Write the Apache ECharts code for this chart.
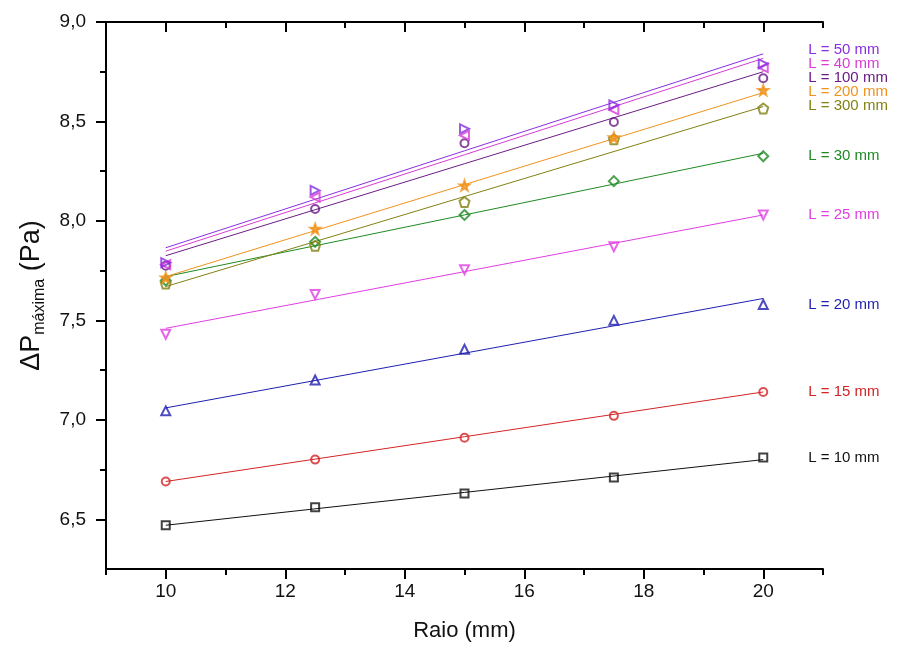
<!DOCTYPE html>
<html>
<head>
<meta charset="utf-8">
<script src="https://cdn.jsdelivr.net/npm/echarts@6/dist/echarts.min.js"></script>
<style>
  html, body { margin: 0; background: #fff; }
  #chart { width: 908px; height: 651px; }
</style>
</head>
<body>
<div id="chart"></div>
<script>
// raio (mm) on the x axis
const raio = [10, 12.5, 15, 17.5, 20];

// measured points, one array per length L
const pL10 = [6.47, 6.56, 6.63, 6.71, 6.81];
const pL15 = [6.69, 6.80, 6.91, 7.02, 7.14];
const pL20 = [7.045, 7.20, 7.355, 7.50, 7.58];
const pL25 = [7.43, 7.63, 7.755, 7.87, 8.03];
const pL30 = [7.70, 7.895, 8.03, 8.20, 8.325];
const pL300 = [7.685, 7.875, 8.095, 8.41, 8.565];
const pL200 = [7.715, 7.96, 8.178, 8.42, 8.657];
const pL100 = [7.775, 8.06, 8.39, 8.497, 8.717];
const pL40 = [7.78, 8.12, 8.43, 8.558, 8.77];
const pL50 = [7.79, 8.153, 8.463, 8.583, 8.79];

// linear fits, value at raio = 10 and raio = 20
const fitX = [10, 20];
const fL10 = [6.47, 6.80];
const fL15 = [6.69, 7.14];
const fL20 = [7.06, 7.61];
const fL25 = [7.46, 8.03];
const fL30 = [7.72, 8.34];
const fL300 = [7.67, 8.575];
const fL200 = [7.72, 8.645];
const fL100 = [7.825, 8.75];
const fL40 = [7.848, 8.817];
const fL50 = [7.865, 8.84];

const names = ["L = 10 mm", "L = 15 mm", "L = 20 mm", "L = 25 mm", "L = 30 mm",
               "L = 300 mm", "L = 200 mm", "L = 100 mm", "L = 40 mm", "L = 50 mm"];
// where each label sits, in y units
const labelY = [6.81, 7.14, 7.58, 8.03, 8.325, 8.58, 8.65, 8.72, 8.79, 8.86];

const xTicks = [10, 12, 14, 16, 18, 20];
const xMinor = [9, 11, 13, 15, 17, 19, 21];
const yTicks = [6.5, 7.0, 7.5, 8.0, 8.5, 9.0];
const yMinor = [6.75, 7.25, 7.75, 8.25, 8.75];

const points = [pL10, pL15, pL20, pL25, pL30, pL300, pL200, pL100, pL40, pL50];
const fits = [fL10, fL15, fL20, fL25, fL30, fL300, fL200, fL100, fL40, fL50];

const colors = ["#111111", "#d42424", "#1f1fb0", "#e03ee2", "#1f8a24",
                "#828012", "#f0921c", "#6a1c84", "#d83cd4", "#8a2ee0"];
const pentagon = "path://M0,-10L9.51,-3.09L5.88,8.09L-5.88,8.09L-9.51,-3.09Z";
const star = "path://M0,-10L2.35,-3.24L9.51,-3.09L3.8,1.24L5.88,8.09L0,4L-5.88,8.09L-3.8,1.24L-9.51,-3.09L-2.35,-3.24Z";
const symbols = ["rect", "circle", "triangle", "triangle", "diamond", pentagon, star, "circle", "triangle", "triangle"];
const rotates = [0, 0, 0, 180, 0, 0, 0, 0, 90, -90];
const sizes = [8, 8, 9, 9, 10, 10, 10, 8, 9, 9];

const FONT = '"Liberation Sans", Arial, sans-serif';

const myChart = echarts.init(document.getElementById("chart"), null, { renderer: "canvas" });

let series = [];
// fit lines first so markers sit on top
fits.forEach((f, i) => {
  series.push({
    type: "line",
    data: fitX.map((x, k) => [x, f[k]]),
    showSymbol: false,
    silent: true,
    lineStyle: { color: colors[i], width: 1 },
    z: 2,
  });
});
points.forEach((p, i) => {
  series.push({
    type: "scatter",
    name: names[i],
    data: raio.map((x, k) => [x, p[k]]),
    symbol: symbols[i],
    symbolRotate: rotates[i],
    symbolSize: sizes[i],
    itemStyle: {
      color: symbols[i] === star ? colors[i] : "rgba(255,255,255,0)",
      borderColor: colors[i],
      borderWidth: 2,
    },
    z: 3,
  });
});

const axisLine = { show: true, lineStyle: { color: "#000", width: 2 } };
const tickStyle = { color: "#000", width: 2 };
const fmt = (v) => v.toFixed(1).replace(".", ",");

let option = {
  animation: false,
  grid: { left: 106, right: 85, top: 22, bottom: 82 },
  xAxis: [
    {
      type: "value", position: "bottom", min: 9, max: 21, interval: 1,
      axisLine,
      axisTick: { customValues: xTicks, length: 10, lineStyle: tickStyle },
      axisLabel: { customValues: xTicks, margin: 13, fontSize: 19, color: "#111", fontFamily: FONT },
      splitLine: { show: false },
      name: "Raio (mm)", nameLocation: "middle", nameGap: 51,
      nameTextStyle: { fontSize: 22, color: "#111", fontFamily: FONT },
    },
    {
      type: "value", position: "bottom", min: 9, max: 21, interval: 1,
      axisLine: { show: false },
      axisTick: { customValues: xMinor, length: 6, lineStyle: tickStyle },
      axisLabel: { show: false }, splitLine: { show: false },
    },
    {
      type: "value", position: "top", min: 9, max: 21, interval: 1,
      axisLine,
      axisTick: { inside: true, customValues: xTicks, length: 10, lineStyle: tickStyle },
      axisLabel: { show: false }, splitLine: { show: false },
    },
    {
      type: "value", position: "top", min: 9, max: 21, interval: 1,
      axisLine: { show: false },
      axisTick: { inside: true, customValues: xMinor, length: 6, lineStyle: tickStyle },
      axisLabel: { show: false }, splitLine: { show: false },
    },
  ],
  yAxis: [
    {
      type: "value", position: "left", min: 6.25, max: 9, interval: 0.25,
      axisLine,
      axisTick: { customValues: yTicks, length: 10, lineStyle: tickStyle },
      axisLabel: { customValues: yTicks, formatter: fmt, margin: 20, fontSize: 19, color: "#111", fontFamily: FONT },
      splitLine: { show: false },
      name: "{a|ΔP}{s|máxima}{a| (Pa)}",
      nameLocation: "middle", nameGap: 58,
      nameTextStyle: {
        color: "#111",
        rich: {
          a: { fontSize: 27, fontFamily: FONT, color: "#111", lineHeight: 32 },
          s: { fontSize: 16, fontFamily: FONT, color: "#111", verticalAlign: "bottom", lineHeight: 15 },
        },
      },
    },
    {
      type: "value", position: "left", min: 6.25, max: 9, interval: 0.25,
      axisLine: { show: false },
      axisTick: { customValues: yMinor, length: 6, lineStyle: tickStyle },
      axisLabel: { show: false }, splitLine: { show: false },
    },
  ],
  series,
};

option && myChart.setOption(option);

// right-hand labels, placed next to the x = 20 column
const gx = myChart.convertToPixel({ xAxisIndex: 0 }, 20) + 45;
myChart.setOption({
  graphic: names.map((t, i) => ({
    type: "text",
    x: gx,
    y: myChart.convertToPixel({ yAxisIndex: 0 }, labelY[i]),
    silent: true,
    style: {
      text: t, fill: colors[i], font: "15px " + FONT,
      align: "left", verticalAlign: "middle",
    },
  })),
});
</script>
</body>
</html>
